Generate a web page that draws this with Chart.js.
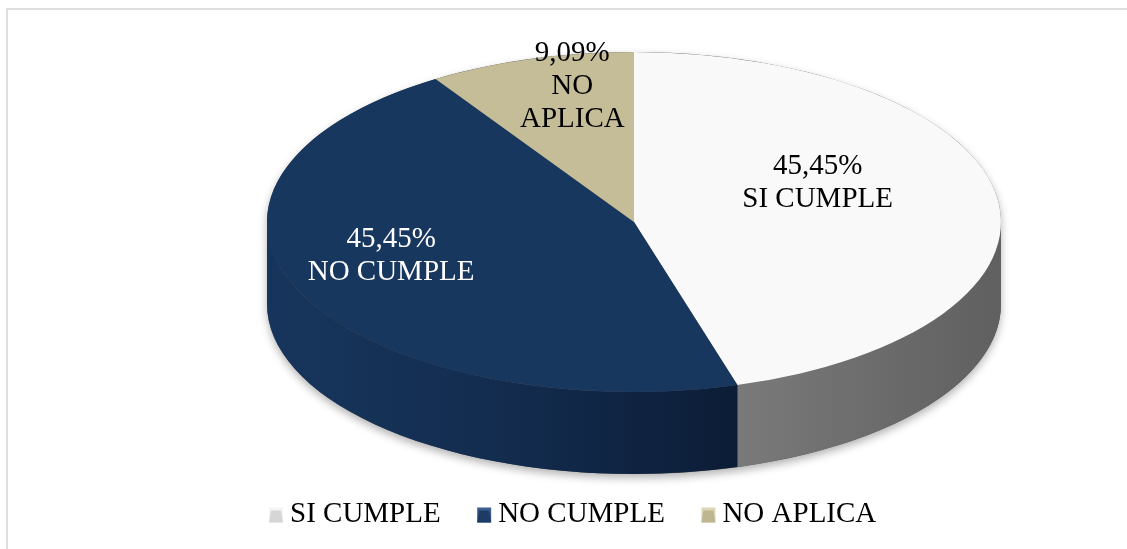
<!DOCTYPE html>
<html>
<head>
<meta charset="utf-8">
<script src="https://cdn.jsdelivr.net/npm/chart.js@4"></script>
<style>
  html, body { margin: 0; padding: 0; background: #fff; overflow: hidden; }
  #wrap { position: absolute; left: 0; top: 0; width: 1127px; height: 549px; }
</style>
</head>
<body>
<div id="wrap"><canvas id="pieChart"></canvas></div>
<script>
const categories = ["SI CUMPLE", "NO CUMPLE", "NO APLICA"];
const counts = [5, 5, 1];
const wrapName = [false, false, true];

const topColors = ["#f9f9f9", "#18375f", "#c4bd97"];
const legendColors = ["#d6d6d6", "#1c3c66", "#bdb68f"];
const legendLight = ["#f4f4f4", "#3c5f8e", "#dcd6b6"];
const labelColors = ["#000000", "#ffffff", "#000000"];
// gradiente de las caras laterales, de izquierda a derecha
const sideStops = [
  [[0, "#8a8a8a"], [0.67, "#787878"], [0.85, "#6a6a6a"], [1, "#606060"]],
  [[0, "#17355c"], [0.3, "#132d50"], [0.65, "#0c1c36"], [1, "#08152a"]],
  [[0, "#a29b78"], [1, "#8a8466"]],
];

const total = counts.reduce((a, b) => a + b, 0);
const percentText = counts.map((v) => ((v / total) * 100).toFixed(2).replace(".", ",") + "%");

const serif = "'Liberation Serif', 'Times New Roman', serif";
const legendSize = 29;

// marco gris del área del gráfico (solo se ven los bordes izq. y sup.)
const frame = {
  id: "frame",
  beforeDraw(chart) {
    const ctx = chart.ctx;
    ctx.save();
    ctx.strokeStyle = "#dedede";
    ctx.lineWidth = 2;
    ctx.beginPath();
    ctx.moveTo(7, chart.height);
    ctx.lineTo(7, 9);
    ctx.lineTo(chart.width, 9);
    ctx.stroke();
    ctx.restore();
  },
};

// dibuja la torta 3D: sombra, lados y la cara superior aplastada
const pie3d = {
  id: "pie3d",
  beforeDatasetsDraw(chart, args, opts) {
    const ctx = chart.ctx;
    const arcs = chart.getDatasetMeta(0).data;
    const first = arcs[0];
    const { cx, cy, rx, ry, depth } = opts;
    ctx.save();

    ctx.save();
    ctx.shadowColor = "rgba(0,0,0,0.3)";
    ctx.shadowBlur = 9;
    ctx.shadowOffsetY = 4;
    ctx.fillStyle = "#555";
    ctx.beginPath();
    ctx.ellipse(cx, cy, rx, ry, 0, Math.PI, 2 * Math.PI);
    ctx.ellipse(cx, cy + depth, rx, ry, 0, 0, Math.PI);
    ctx.closePath();
    ctx.fill();
    ctx.restore();

    arcs.forEach((arc, i) => {
      [0, 2 * Math.PI].forEach((shift) => {
        const a = Math.max(arc.startAngle, shift);
        const b = Math.min(arc.endAngle, shift + Math.PI);
        if (b <= a) return;
        const grad = ctx.createLinearGradient(cx - rx, 0, cx + rx, 0);
        sideStops[i].forEach(([p, c]) => grad.addColorStop(p, c));
        ctx.fillStyle = grad;
        ctx.beginPath();
        ctx.ellipse(cx, cy, rx, ry, 0, a, b);
        ctx.ellipse(cx, cy + depth, rx, ry, 0, b, a, true);
        ctx.closePath();
        ctx.fill();
      });
    });

    const R = first.outerRadius;
    ctx.translate(cx, cy);
    ctx.scale(rx / R, ry / R);
    ctx.translate(-first.x, -first.y);
  },
  afterDatasetsDraw(chart, args, opts) {
    const ctx = chart.ctx;
    ctx.restore();
    const arcs = chart.getDatasetMeta(0).data;
    const first = arcs[0];
    const { cx, cy, rx, ry } = opts;
    const R = first.outerRadius;
    ctx.save();
    ctx.font = "29px " + serif;
    ctx.textAlign = "center";
    ctx.textBaseline = "middle";
    arcs.forEach((arc, i) => {
      const p = arc.tooltipPosition(true);
      const x = cx + ((p.x - first.x) * rx) / R + opts.labelShift[i][0];
      const y = cy + ((p.y - first.y) * ry) / R + opts.labelShift[i][1];
      const name = chart.data.labels[i];
      const lines = [percentText[i]].concat(wrapName[i] ? name.split(" ") : [name]);
      const lh = opts.lineHeight;
      ctx.fillStyle = labelColors[i];
      lines.forEach((t, k) => {
        ctx.fillText(t, x, y + (k - (lines.length - 1) / 2) * lh);
      });
    });
    ctx.restore();
  },
};

// cuadritos de la leyenda con relieve, pegados al texto
const legendBoxes = {
  id: "legendBoxes",
  afterDraw(chart) {
    const legend = chart.legend;
    const ctx = chart.ctx;
    const size = 15;
    ctx.save();
    legend.legendHitBoxes.forEach((hb, i) => {
      const textX = hb.left + legendSize / 2;
      const x = textX - 7 - 14;
      const y = hb.top + hb.height / 2 - size / 2 + 1;
      ctx.fillStyle = legendLight[i];
      ctx.fillRect(x, y, 14, size);
      ctx.fillStyle = legendColors[i];
      ctx.beginPath();
      ctx.moveTo(x + 2, y + 3);
      ctx.lineTo(x + 12, y + 3);
      ctx.lineTo(x + 14, y + size);
      ctx.lineTo(x, y + size);
      ctx.closePath();
      ctx.fill();
    });
    ctx.restore();
  },
};

new Chart(document.getElementById("pieChart"), {
  type: "pie",
  data: {
    labels: categories,
    datasets: [
      {
        data: counts,
        backgroundColor: topColors,
        borderWidth: 0,
        clip: false,
      },
    ],
  },
  options: {
    responsive: true,
    maintainAspectRatio: false,
    animation: false,
    layout: { padding: { left: 232.5, right: 20, top: 0, bottom: 10.5 } },
    plugins: {
      tooltip: { enabled: false },
      legend: {
        position: "bottom",
        align: "start",
        labels: {
          boxWidth: 0,
          boxHeight: 15,
          padding: 43,
          color: "#000",
          font: { family: serif, size: legendSize },
          generateLabels: (chart) =>
            chart.data.labels.map((text, i) => ({
              text,
              fillStyle: "rgba(0,0,0,0)",
              strokeStyle: "rgba(0,0,0,0)",
              lineWidth: 0,
              fontColor: "#000",
              hidden: false,
              index: i,
            })),
        },
      },
      pie3d: {
        cx: 634,
        cy: 222,
        rx: 367,
        ry: 170,
        depth: 82,
        lineHeight: 33,
        labelShift: [[2, -27], [-76, -1], [-10, -54]],
      },
    },
  },
  plugins: [frame, pie3d, legendBoxes],
});
</script>
</body>
</html>
